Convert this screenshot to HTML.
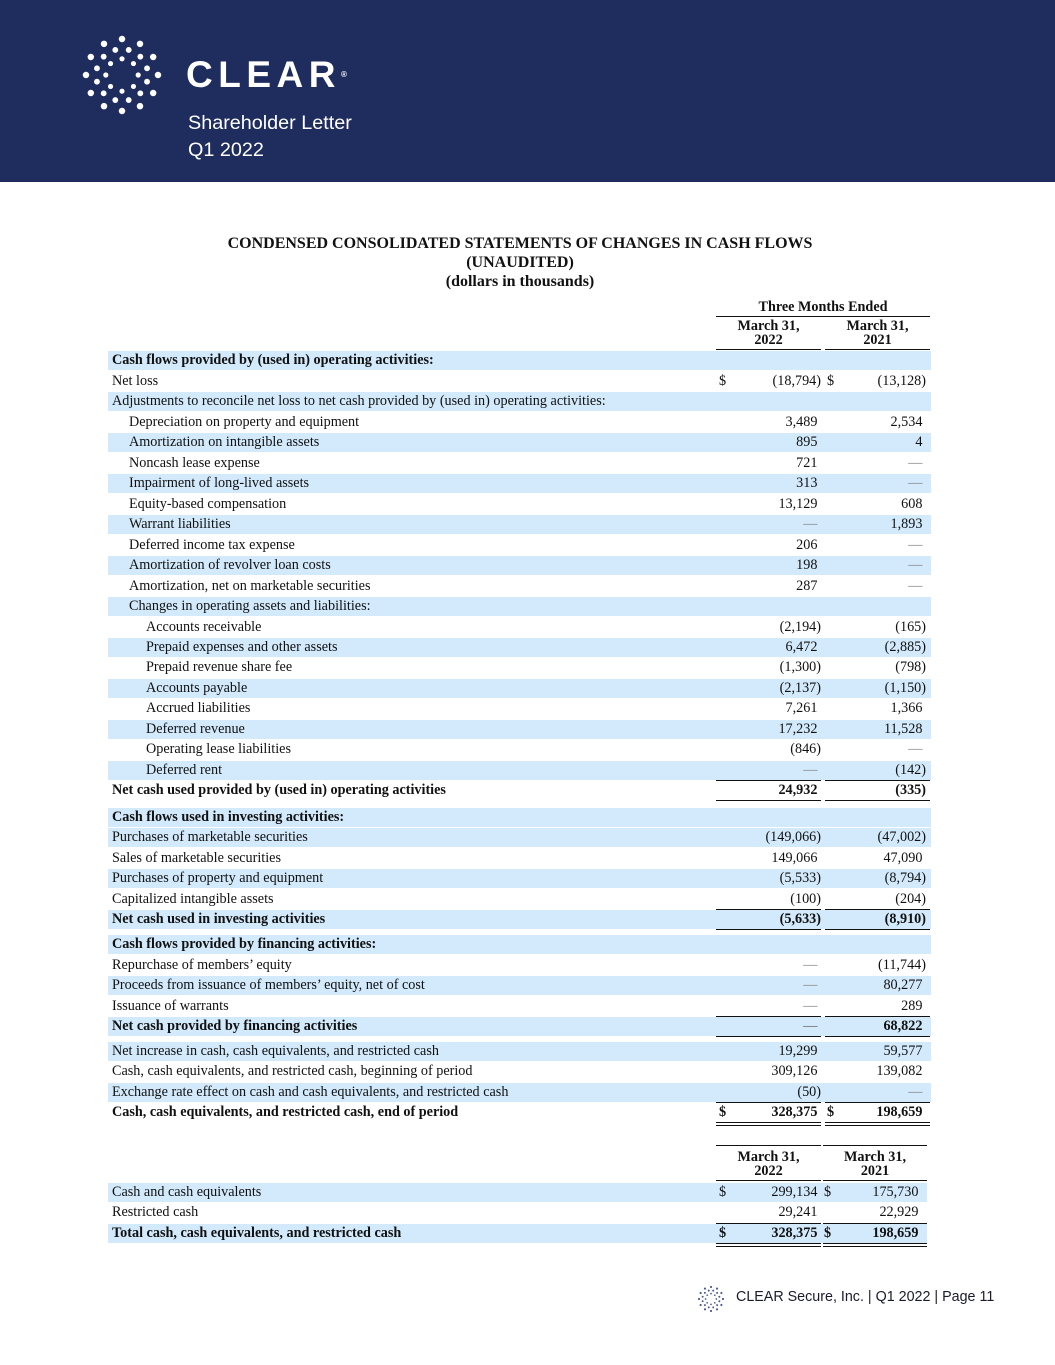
<!DOCTYPE html>
<html><head><meta charset="utf-8">
<style>
body{margin:0;width:1055px;height:1365px;position:relative;background:#fff;font-family:"Liberation Serif",serif;color:#111;overflow:hidden}
.a{position:absolute}
.row{position:absolute;left:108px;height:19px;line-height:19px;font-size:14.2px;white-space:nowrap}
.sh{background:#d2eafb}
.b{font-weight:bold}
.num{position:absolute;text-align:right;width:100px;top:0}
.ln{position:absolute;height:0;border-top:1.5px solid #111}
.hd{position:absolute;font-size:14.2px;font-weight:bold;text-align:center;line-height:14px}
</style></head><body>
<div class="a" style="left:0;top:0;width:1055px;height:182px;background:#1e2c5e"></div>
<svg class="a" style="left:82px;top:35px" width="80" height="80" id="logo"></svg>
<div class="a" style="left:186px;top:55px;color:#fff;font-family:'Liberation Sans',sans-serif;font-weight:bold;font-size:37px;letter-spacing:5.5px;line-height:40px">CLEAR<span style="font-size:8px;vertical-align:top;letter-spacing:0">®</span></div>
<div class="a" style="left:188px;top:111px;color:#fff;font-family:'Liberation Sans',sans-serif;font-size:19.8px;line-height:24px">Shareholder Letter</div>
<div class="a" style="left:188px;top:138px;color:#fff;font-family:'Liberation Sans',sans-serif;font-size:19.8px;line-height:24px">Q1 2022</div>

<div class="a" style="left:0;width:1040px;top:234px;text-align:center;font-weight:bold;font-size:16px;line-height:19px">CONDENSED CONSOLIDATED STATEMENTS OF CHANGES IN CASH FLOWS<br>(UNAUDITED)<br>(dollars in thousands)</div>

<div class="hd" style="left:716px;width:214px;top:300px">Three Months Ended</div>
<div class="ln" style="left:716px;width:214px;top:316px"></div>
<div class="hd" style="left:716px;width:105px;top:319px">March 31,<br>2022</div>
<div class="hd" style="left:825px;width:105px;top:319px">March 31,<br>2021</div>
<div class="ln" style="left:716px;width:105px;top:349px"></div>
<div class="ln" style="left:825px;width:105px;top:349px"></div>

<div class="a" id="tbl"></div>

<div class="ln" style="left:716px;width:105px;top:1145px"></div>
<div class="ln" style="left:823px;width:104px;top:1145px"></div>
<div class="hd" style="left:716px;width:105px;top:1150px">March 31,<br>2022</div>
<div class="hd" style="left:823px;width:104px;top:1150px">March 31,<br>2021</div>
<div class="ln" style="left:716px;width:105px;top:1180px"></div>
<div class="ln" style="left:823px;width:104px;top:1180px"></div>

<svg class="a" style="left:697px;top:1285px" width="28" height="28" id="logo2"></svg>
<div class="a" style="left:736px;top:1289px;font-family:'Liberation Sans',sans-serif;font-size:14.3px;color:#1a1a2e">CLEAR Secure, Inc. | Q1 2022 | Page 11</div>

<script>
const rows=[
[360,"Cash flows provided by (used in) operating activities:",0,1,1,"","",0],
[381,"Net loss",0,0,0,"(18,794)","(13,128)",1],
[401,"Adjustments to reconcile net loss to net cash provided by (used in) operating activities:",0,1,0,"","",0],
[422,"Depreciation on property and equipment",1,0,0,"3,489","2,534",0],
[442,"Amortization on intangible assets",1,1,0,"895","4",0],
[463,"Noncash lease expense",1,0,0,"721","—",0],
[483,"Impairment of long-lived assets",1,1,0,"313","—",0],
[504,"Equity-based compensation",1,0,0,"13,129","608",0],
[524,"Warrant liabilities",1,1,0,"—","1,893",0],
[545,"Deferred income tax expense",1,0,0,"206","—",0],
[565,"Amortization of revolver loan costs",1,1,0,"198","—",0],
[586,"Amortization, net on marketable securities",1,0,0,"287","—",0],
[606,"Changes in operating assets and liabilities:",1,1,0,"","",0],
[627,"Accounts receivable",2,0,0,"(2,194)","(165)",0],
[647,"Prepaid expenses and other assets",2,1,0,"6,472","(2,885)",0],
[667,"Prepaid revenue share fee",2,0,0,"(1,300)","(798)",0],
[688,"Accounts payable",2,1,0,"(2,137)","(1,150)",0],
[708,"Accrued liabilities",2,0,0,"7,261","1,366",0],
[729,"Deferred revenue",2,1,0,"17,232","11,528",0],
[749,"Operating lease liabilities",2,0,0,"(846)","—",0],
[770,"Deferred rent",2,1,0,"—","(142)",0],
[790,"Net cash used provided by (used in) operating activities",0,0,1,"24,932","(335)",0],
[817,"Cash flows used in investing activities:",0,1,1,"","",0],
[837,"Purchases of marketable securities",0,1,0,"(149,066)","(47,002)",0],
[858,"Sales of marketable securities",0,0,0,"149,066","47,090",0],
[878,"Purchases of property and equipment",0,1,0,"(5,533)","(8,794)",0],
[899,"Capitalized intangible assets",0,0,0,"(100)","(204)",0],
[919,"Net cash used in investing activities",0,1,1,"(5,633)","(8,910)",0],
[944,"Cash flows provided by financing activities:",0,1,1,"","",0],
[965,"Repurchase of members’ equity",0,0,0,"—","(11,744)",0],
[985,"Proceeds from issuance of members’ equity, net of cost",0,1,0,"—","80,277",0],
[1006,"Issuance of warrants",0,0,0,"—","289",0],
[1026,"Net cash provided by financing activities",0,1,1,"—","68,822",0],
[1051,"Net increase in cash, cash equivalents, and restricted cash",0,1,0,"19,299","59,577",0],
[1071,"Cash, cash equivalents, and restricted cash, beginning of period",0,0,0,"309,126","139,082",0],
[1092,"Exchange rate effect on cash and cash equivalents, and restricted cash",0,1,0,"(50)","—",0],
[1112,"Cash, cash equivalents, and restricted cash, end of period",0,0,1,"328,375","198,659",1],
[1192,"Cash and cash equivalents",0,1,0,"299,134","175,730",1],
[1212,"Restricted cash",0,0,0,"29,241","22,929",0],
[1233,"Total cash, cash equivalents, and restricted cash",0,1,1,"328,375","198,659",1]
];
const lines=[[780,0],[800,0],[909,0],[929,0],[1016,0],[1036,0],[1102,0],[1122,1],[1223,0],[1243,1]];
const tbl=document.getElementById('tbl');
rows.forEach((r,i)=>{
  const d=document.createElement('div');
  
  
  const w=r[0]>1180?819:823;
  d.className='row'+(r[3]?' sh':'')+(r[4]?' b':'');
  d.style.top=(r[0]-9.5)+'px';d.style.width=w+'px';
  let h='<span style="position:absolute;left:'+(4+r[2]*17)+'px">'+r[1]+'</span>';
  if(r[5]!=='')h+='<span class="num" style="left:613px;'+(r[5]==='—'?'color:#888;':'')+'">'+r[5]+(r[5].endsWith(')')?'':'&nbsp;')+'</span>';
  if(r[6]!=='')h+='<span class="num" style="left:'+(w-105)+'px;'+(r[6]==='—'?'color:#888;':'')+'">'+r[6]+(r[6].endsWith(')')?'':'&nbsp;')+'</span>';
  if(r[7]){h+='<span style="position:absolute;left:611px">$</span><span style="position:absolute;left:'+(r[0]>1180?716:719)+'px">$</span>';}
  d.innerHTML=h;
  tbl.appendChild(d);
});
lines.forEach(l=>{
  [[716,105],[825,105]].forEach((c,j)=>{
    const e=document.createElement('div');
    
    
    e.className='ln';
    const x=l[0]>1180&&j==1?823:c[0], w=l[0]>1180&&j==1?104:c[1];
    e.style.cssText='left:'+x+'px;width:'+w+'px;top:'+l[0]+'px;'+(l[1]?'height:2px;border-bottom:1.5px solid #111':'');
    tbl.appendChild(e);
  });
});
function dots(id,cx,cy,s,col){
  const svg=document.getElementById(id);let h='';
  const rings=[[1.0,12,0,1.0],[0.72,12,15,0.9],[0.45,8,0,0.8]];
  rings.forEach(rg=>{for(let k=0;k<rg[1];k++){const a=(k*360/rg[1]+rg[2])*Math.PI/180;
    h+='<circle cx="'+(cx+Math.cos(a)*rg[0]*s)+'" cy="'+(cy+Math.sin(a)*rg[0]*s)+'" r="'+(s*0.09*rg[3])+'" fill="'+col+'"/>';}});
  svg.innerHTML=h;
}
dots('logo',40,40,36,'#fff');
dots('logo2',14,14,12,'#4a5a8a');
</script>
</body></html>
